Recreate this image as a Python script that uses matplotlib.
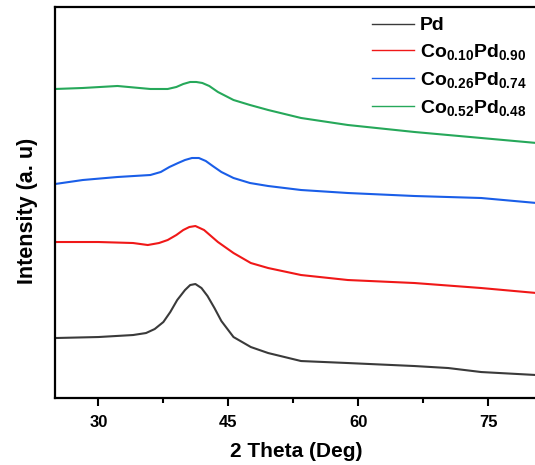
import matplotlib
matplotlib.use('Agg')
import matplotlib.pyplot as plt
from matplotlib.ticker import MultipleLocator

plt.rcParams['font.family'] = 'Liberation Sans'
plt.rcParams['font.weight'] = 'bold'
plt.rcParams['mathtext.fontset'] = 'custom'
plt.rcParams['mathtext.bf'] = 'Liberation Sans:bold'
plt.rcParams['mathtext.rm'] = 'Liberation Sans:bold'
plt.rcParams['mathtext.default'] = 'bf'

# (2 theta in deg, intensity in arbitrary units)
x_pd = [25, 30, 34, 35.5, 36.5, 37.5, 38.3, 39.1, 40, 40.6, 41.2, 41.9, 42.6, 43.4, 44.2, 45.6, 47.6, 49.6, 53.4, 58.8, 66.5, 70.4, 74.2, 80.6]
y_pd = [62, 63, 65, 67, 71, 78, 88, 100, 110, 115, 116, 112, 104, 92, 79, 63, 53, 47, 39, 37, 34, 32, 28, 25]

x_co10 = [25, 30, 34, 35.7, 37, 38, 39, 39.8, 40.5, 41.2, 42.2, 43, 43.8, 45.6, 47.6, 49.6, 53.4, 58.8, 66.5, 74.2, 80.6]
y_co10 = [158, 158, 157, 155, 157, 160, 165, 170, 173, 174, 170, 164, 158, 147, 137, 132, 125, 120, 117, 112, 107]

x_co26 = [25, 28.2, 32.2, 36, 37.2, 38.2, 39.2, 40, 40.8, 41.6, 42.4, 43.2, 44.2, 45.6, 47.5, 49.6, 53.4, 58.8, 66.5, 74.2, 80.6]
y_co26 = [216, 220, 223, 225, 228, 233, 237, 240, 242, 242, 239, 234, 228, 222, 217, 214, 210, 207, 204, 202, 197]

x_co52 = [25, 28.2, 32.2, 36, 38, 39, 39.8, 40.6, 41.3, 42, 42.8, 43.8, 45.6, 47.5, 49.6, 53.4, 58.8, 66.5, 74.2, 80.6]
y_co52 = [311, 312, 314, 311, 311, 313, 316, 318, 318, 317, 314, 308, 300, 295, 290, 282, 275, 268, 262, 257]

labels = ['Pd', r'Co$_{0.10}$Pd$_{0.90}$', r'Co$_{0.26}$Pd$_{0.74}$', r'Co$_{0.52}$Pd$_{0.48}$']
colors = ['#3a3a3a', '#f01818', '#1a5ee8', '#26a85a']

fig = plt.figure(figsize=(5.35, 4.65), dpi=100)
ax = fig.add_axes([0.103, 0.144, 0.9, 0.841])

for xs, ys, c, lab in zip([x_pd, x_co10, x_co26, x_co52], [y_pd, y_co10, y_co26, y_co52], colors, labels):
    ax.plot(xs, ys, color=c, lw=1.5, label=lab)

ax.set_xlim(25, 80.6)
ax.set_ylim(2, 393)
ax.xaxis.set_major_locator(MultipleLocator(15))
ax.xaxis.set_minor_locator(MultipleLocator(7.5))
ax.tick_params(axis='x', which='major', length=6, width=1.5, labelsize=12, pad=6, direction='out')
ax.tick_params(axis='x', which='minor', length=3.5, width=1.5)
ax.set_yticks([])
for s in ['left', 'bottom', 'top']:
    ax.spines[s].set_linewidth(1.6)
ax.spines['right'].set_visible(False)

ax.set_xlabel('2 Theta (Deg)', fontsize=15, fontweight='bold', labelpad=9)
ax.set_ylabel('Intensity (a. u)', fontsize=15.5, fontweight='bold')
ax.yaxis.set_label_coords(-0.036, 0.478)

leg = ax.legend(loc='upper right', bbox_to_anchor=(1.0, 1.0), frameon=False, fontsize=14,
                handlelength=2.15, handletextpad=0.3, labelspacing=0.4, borderaxespad=0.1)
for h in leg.get_lines():
    h.set_linewidth(1.0)

fig.savefig('out.png', dpi=100)
